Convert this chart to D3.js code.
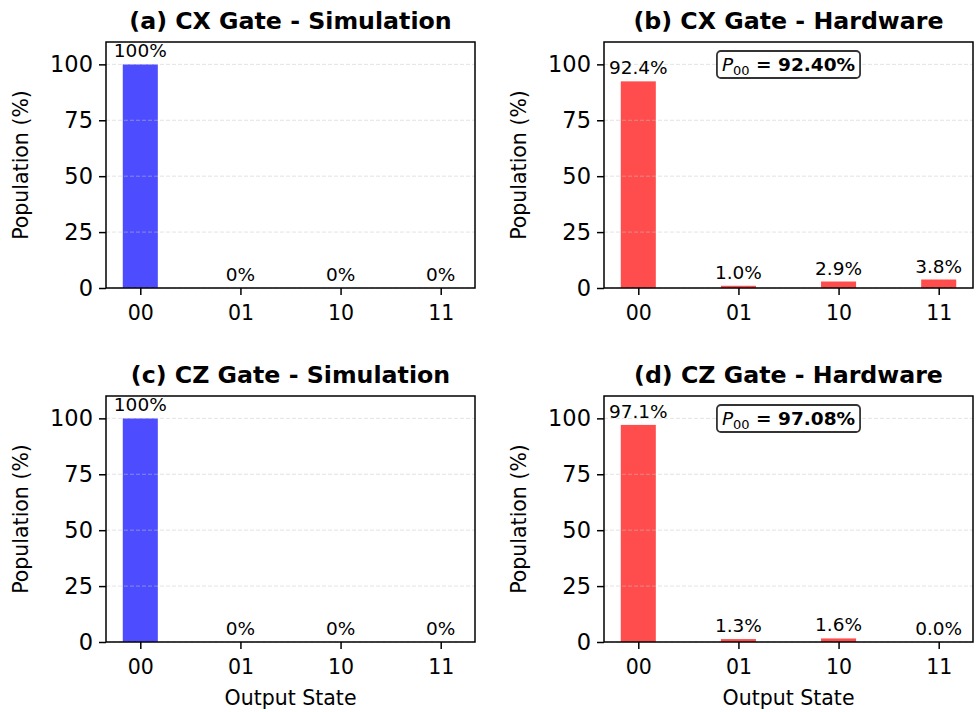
<!DOCTYPE html>
<html>
<head>
<meta charset="utf-8">
<script src="https://cdn.jsdelivr.net/npm/d3@7"></script>
<style>
  html, body { margin: 0; padding: 0; background: #fff; }
  svg { display: block; font-family: "DejaVu Sans", sans-serif; }
</style>
</head>
<body>
<svg id="chart" width="978" height="712"></svg>
<script>
// ---- data ----
const states = ["00", "01", "10", "11"];
const cxSimulation = [100, 0, 0, 0];
const cxHardware = [92.4, 1.0, 2.9, 3.8];
const czSimulation = [100, 0, 0, 0];
const czHardware = [97.08, 1.3, 1.6, 0.0];
const cxP00 = 92.40;
const czP00 = 97.08;
const yTicks = [0, 25, 50, 75, 100];
const yMax = 110;
const titles = ["(a) CX Gate - Simulation", "(b) CX Gate - Hardware",
                "(c) CZ Gate - Simulation", "(d) CZ Gate - Hardware"];

// ---- layout ----
const W = 978, H = 712;
const cols = [[106, 475], [604, 973]];
const rows = [[42, 288], [396, 642]];
const BLUE = "rgb(77,77,255)", RED = "rgb(255,77,77)";

const panels = [
  { values: cxSimulation, title: titles[0], color: BLUE, fmt: d3.format(".0f"), p00: null, c: 0, r: 0 },
  { values: cxHardware, title: titles[1], color: RED, fmt: d3.format(".1f"), p00: cxP00, c: 1, r: 0 },
  { values: czSimulation, title: titles[2], color: BLUE, fmt: d3.format(".0f"), p00: null, c: 0, r: 1 },
  { values: czHardware, title: titles[3], color: RED, fmt: d3.format(".1f"), p00: czP00, c: 1, r: 1 }
];

const svg = d3.select("#chart");
const barW = 0.35;

panels.forEach(p => {
  const [x0, x1] = cols[p.c];
  const [y0, y1] = rows[p.r];
  const x = d3.scaleLinear().domain([-0.3425, states.length - 1 + 0.3425]).range([x0, x1]);
  const y = d3.scaleLinear().domain([0, yMax]).range([y1, y0]);
  const g = svg.append("g");

  // bars
  g.selectAll("rect.bar").data(p.values).enter().append("rect")
    .attr("class", "bar")
    .attr("x", (d, i) => x(i - barW / 2))
    .attr("width", (d, i) => x(i + barW / 2) - x(i - barW / 2))
    .attr("y", d => y(d))
    .attr("height", d => y(0) - y(d))
    .attr("fill", p.color);

  // grid (above bars, like matplotlib patches)
  g.selectAll("line.grid").data(yTicks).enter().append("line")
    .attr("x1", x0).attr("x2", x1)
    .attr("y1", d => y(d)).attr("y2", d => y(d))
    .attr("stroke", "#c8c8c8").attr("stroke-opacity", 0.5)
    .attr("stroke-width", 1).attr("stroke-dasharray", "4,2");

  // value labels
  g.selectAll("text.val").data(p.values).enter().append("text")
    .attr("x", (d, i) => x(i))
    .attr("y", d => y(d) - 7)
    .attr("text-anchor", "middle")
    .attr("font-size", 18.5)
    .attr("fill", "#000")
    .text(d => p.fmt(d) + "%");

  // axes
  const yAxis = d3.axisLeft(y).tickValues(yTicks).tickSize(7).tickPadding(6);
  const xAxis = d3.axisBottom(x).tickValues(d3.range(states.length))
    .tickFormat(i => states[i]).tickSize(7).tickPadding(10);

  const ya = g.append("g").attr("transform", `translate(${x0},0)`).call(yAxis);
  const xa = g.append("g").attr("transform", `translate(0,${y1})`).call(xAxis);
  [ya, xa].forEach(a => {
    a.select(".domain").remove();
    a.selectAll(".tick line").attr("stroke", "#000").attr("stroke-width", 1.5);
    a.selectAll(".tick text").attr("fill", "#000").attr("font-family", "DejaVu Sans");
  });
  ya.selectAll(".tick text").attr("font-size", 22.5);
  xa.selectAll(".tick text").attr("font-size", 20.5);

  // frame
  g.append("rect").attr("x", x0).attr("y", y0)
    .attr("width", x1 - x0).attr("height", y1 - y0)
    .attr("fill", "none").attr("stroke", "#000").attr("stroke-width", 1.5);

  // title
  g.append("text").attr("x", (x0 + x1) / 2).attr("y", y0 - 13)
    .attr("text-anchor", "middle").attr("font-size", 23.7).attr("font-weight", "bold")
    .text(p.title);

  // y label
  g.append("text")
    .attr("transform", `translate(${x0 - 78},${(y0 + y1) / 2}) rotate(-90)`)
    .attr("text-anchor", "middle").attr("font-size", 20.5)
    .text("Population (%)");

  // x label
  if (p.r === 1) {
    g.append("text").attr("x", (x0 + x1) / 2).attr("y", H - 7)
      .attr("text-anchor", "middle").attr("font-size", 20.5)
      .text("Output State");
  }

  // P00 annotation box
  if (p.p00 !== null) {
    const cx = (x0 + x1) / 2;
    const ty = y0 + 29;
    const t = g.append("text").attr("x", cx).attr("y", ty)
      .attr("text-anchor", "middle").attr("font-size", 18.5);
    t.append("tspan").attr("font-style", "italic").text("P");
    t.append("tspan").attr("font-size", 13).attr("dy", 4).text("00");
    t.append("tspan").attr("dy", -4).attr("font-weight", "bold")
      .text("\u00a0=\u00a0" + d3.format(".2f")(p.p00) + "%");
    const bb = t.node().getBBox();
    g.insert("rect", () => t.node())
      .attr("x", bb.x - 5).attr("y", y0 + 9)
      .attr("width", bb.width + 10).attr("height", 27)
      .attr("rx", 4).attr("ry", 4)
      .attr("fill", "#fff").attr("fill-opacity", 0.85)
      .attr("stroke", "#333").attr("stroke-width", 1.8);
  }
});
</script>
</body>
</html>
